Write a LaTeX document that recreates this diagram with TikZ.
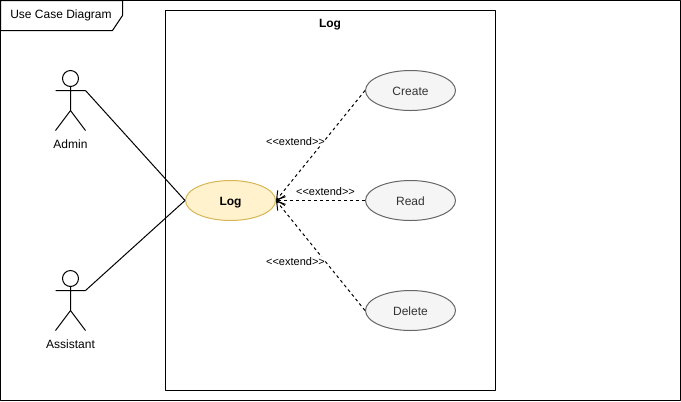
\documentclass[tikz,border=0pt]{standalone}
\usepackage{fontspec}
\setmainfont[Ligatures=NoCommon]{Liberation Sans}
\usetikzlibrary{shapes.geometric,arrows.meta}
\definecolor{logfill}{HTML}{FFF2CC}
\definecolor{logline}{HTML}{D6B656}
\definecolor{casefill}{HTML}{F5F5F5}
\definecolor{caseline}{HTML}{666666}
\definecolor{casetext}{HTML}{333333}
\newcommand{\extendtext}{{<}{<}extend{>}{>}}
\tikzset{
	usecase/.style={ellipse, draw=caseline, fill=casefill, text=casetext, minimum width=67.5pt, minimum height=30pt, inner sep=0pt, text height=8pt, text depth=1.2pt},
	mainuse/.style={usecase, draw=logline, fill=logfill, text=black, font=\fontsize{9}{11}\selectfont\bfseries},
	extendlabel/.style={font=\fontsize{8.25}{10}\selectfont, inner sep=0pt, fill=white},
	extendline/.style={draw, dash pattern=on 2.25pt off 2.25pt, -{Straight Barb[length=6pt,width=7.5pt,line join=miter]}},
	pics/stickman/.style={code={
		\draw (0,0) circle (8);
		\draw (0,8) -- (0,32) (-15,12) -- (15,12) (-15,52) -- (0,32) -- (15,52);
	}}
}
\begin{document}
\begin{tikzpicture}[x=0.75pt,y=-0.75pt,font=\fontsize{9}{11}\selectfont, line width=0.75pt, line join=round]
	\useasboundingbox (0,0) rectangle (681,401);
	% outer frame and its tab
	\draw (0.5,0.5) rectangle (680.5,400.5);
	\draw (0.5,0.5) -- (122.5,0.5) -- (122.5,15.5) -- (112.5,30.5) -- (0.5,30.5) -- cycle;
	\node (title) at (61,15.5) {Use Case Diagram};
	% system boundary
	\draw (165.5,10.5) rectangle (495.5,390.5);
	\node[font=\fontsize{9}{11}\selectfont\bfseries] (system) at (330,25) {Log};
	% use cases
	\node[mainuse] (log) at (230.5,200.5) {Log};
	\node[usecase] (create) at (410.5,90.5) {Create};
	\node[usecase] (read) at (410.5,200.5) {Read};
	\node[usecase] (delete) at (410.5,310.5) {Delete};
	% actors
	\pic at (70.5,78.5) {stickman};
	\pic at (70.5,278.5) {stickman};
	\node (admin) at (70.5,144) {Admin};
	\node (assistant) at (70.5,344) {Assistant};
	\coordinate (adminhand) at (85.5,90.5);
	\coordinate (assistanthand) at (85.5,290.5);
	\draw (adminhand) -- (log.west);
	\draw (assistanthand) -- (log.west);
	% extend links
	\draw[extendline] (create.west) -- (log.east);
	\draw[extendline] (read.west) -- (log.east);
	\draw[extendline] (delete.west) -- (log.east);
	\node[extendlabel] (labela) at (295.5,141.5) {\extendtext};
	\node[extendlabel] (labelb) at (325.5,191.5) {\extendtext};
	\node[extendlabel] (labelc) at (295.5,261.5) {\extendtext};
\end{tikzpicture}
\end{document}
